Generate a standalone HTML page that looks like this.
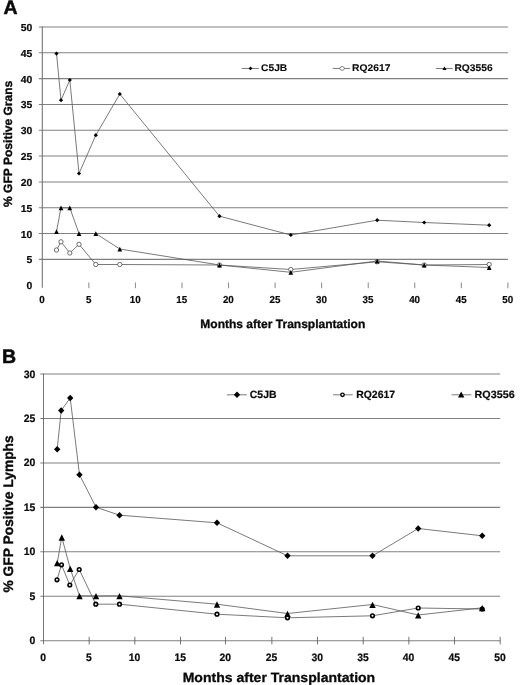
<!DOCTYPE html>
<html><head><meta charset="utf-8"><title>chart</title>
<style>
html,body{margin:0;padding:0;background:#fff;}
body{width:520px;height:685px;overflow:hidden;font-family:"Liberation Sans",sans-serif;}
svg{display:block;will-change:transform;}
text{font-family:"Liberation Sans",sans-serif;font-weight:bold;fill:#0a0a0a;stroke:#0a0a0a;stroke-width:0.2px;text-rendering:geometricPrecision;}
.tk{font-size:10.1px;}
.tkb{font-size:10.8px;}
.lga{font-size:9.7px;stroke-width:0.1px;}
.lgb{font-size:10.5px;}
.ta{font-size:12px;stroke-width:0.3px;}
.tb{font-size:13.3px;stroke-width:0.3px;}
.ya{font-size:12.05px;stroke-width:0.35px;}
.yb{font-size:13.8px;stroke-width:0.35px;}
.pl{font-size:19.5px;stroke:#0a0a0a;stroke-width:0.5px;}
</style></head><body>
<svg width="520" height="685" viewBox="0 0 520 685">
<rect width="520" height="685" fill="#fff"/>
<g stroke="#808080" stroke-width="1.05" fill="none">
<line x1="38.90" y1="259.38" x2="507.90" y2="259.38"/>
<line x1="38.90" y1="233.55" x2="507.90" y2="233.55"/>
<line x1="38.90" y1="207.72" x2="507.90" y2="207.72"/>
<line x1="38.90" y1="181.90" x2="507.90" y2="181.90"/>
<line x1="38.90" y1="156.07" x2="507.90" y2="156.07"/>
<line x1="38.90" y1="130.25" x2="507.90" y2="130.25"/>
<line x1="38.90" y1="104.42" x2="507.90" y2="104.42"/>
<line x1="38.90" y1="78.60" x2="507.90" y2="78.60"/>
<line x1="38.90" y1="52.77" x2="507.90" y2="52.77"/>
<line x1="38.90" y1="26.95" x2="507.90" y2="26.95"/>
</g>
<g stroke="#707070" stroke-width="1.05" fill="none">
<line x1="42.30" y1="26.45" x2="42.30" y2="287.7"/>
<line x1="88.86" y1="282.5" x2="88.86" y2="288.2" stroke="#7a7a7a" stroke-width="0.9"/>
<line x1="135.42" y1="282.5" x2="135.42" y2="288.2" stroke="#7a7a7a" stroke-width="0.9"/>
<line x1="181.98" y1="282.5" x2="181.98" y2="288.2" stroke="#7a7a7a" stroke-width="0.9"/>
<line x1="228.54" y1="282.5" x2="228.54" y2="288.2" stroke="#7a7a7a" stroke-width="0.9"/>
<line x1="275.10" y1="282.5" x2="275.10" y2="288.2" stroke="#7a7a7a" stroke-width="0.9"/>
<line x1="321.66" y1="282.5" x2="321.66" y2="288.2" stroke="#7a7a7a" stroke-width="0.9"/>
<line x1="368.22" y1="282.5" x2="368.22" y2="288.2" stroke="#7a7a7a" stroke-width="0.9"/>
<line x1="414.78" y1="282.5" x2="414.78" y2="288.2" stroke="#7a7a7a" stroke-width="0.9"/>
<line x1="461.34" y1="282.5" x2="461.34" y2="288.2" stroke="#7a7a7a" stroke-width="0.9"/>
<line x1="507.90" y1="282.5" x2="507.90" y2="288.2" stroke="#7a7a7a" stroke-width="0.9"/>
</g>
<g stroke="#808080" stroke-width="1.05" fill="none">
<line x1="40.30" y1="640.70" x2="500.20" y2="640.70"/>
<line x1="40.30" y1="596.25" x2="500.20" y2="596.25"/>
<line x1="40.30" y1="551.80" x2="500.20" y2="551.80"/>
<line x1="40.30" y1="507.35" x2="500.20" y2="507.35"/>
<line x1="40.30" y1="462.90" x2="500.20" y2="462.90"/>
<line x1="40.30" y1="418.45" x2="500.20" y2="418.45"/>
<line x1="40.30" y1="374.00" x2="500.20" y2="374.00"/>
</g>
<g stroke="#707070" stroke-width="1.05" fill="none">
<line x1="43.50" y1="373.50" x2="43.50" y2="644.2" stroke="#5c5c5c" stroke-width="0.85"/>
<line x1="89.17" y1="636.8" x2="89.17" y2="644.4" stroke="#5c5c5c" stroke-width="0.85"/>
<line x1="134.84" y1="636.8" x2="134.84" y2="644.4" stroke="#5c5c5c" stroke-width="0.85"/>
<line x1="180.51" y1="636.8" x2="180.51" y2="644.4" stroke="#5c5c5c" stroke-width="0.85"/>
<line x1="225.48" y1="636.8" x2="225.48" y2="644.4" stroke="#5c5c5c" stroke-width="0.85"/>
<line x1="271.85" y1="636.8" x2="271.85" y2="644.4" stroke="#5c5c5c" stroke-width="0.85"/>
<line x1="317.52" y1="636.8" x2="317.52" y2="644.4" stroke="#5c5c5c" stroke-width="0.85"/>
<line x1="363.19" y1="636.8" x2="363.19" y2="644.4" stroke="#5c5c5c" stroke-width="0.85"/>
<line x1="408.86" y1="636.8" x2="408.86" y2="644.4" stroke="#5c5c5c" stroke-width="0.85"/>
<line x1="454.53" y1="636.8" x2="454.53" y2="644.4" stroke="#5c5c5c" stroke-width="0.85"/>
<line x1="500.20" y1="636.8" x2="500.20" y2="644.4" stroke="#5c5c5c" stroke-width="0.85"/>
</g>
<polyline fill="none" stroke="#585858" stroke-width="0.8" points="56.5,53.6 61.0,100.2 69.8,80.0 79.0,173.5 95.8,135.2 119.8,94.0 219.5,216.2 290.8,235.0 377.2,220.2 424.2,222.5 489.2,225.2"/>
<polyline fill="none" stroke="#585858" stroke-width="0.8" points="56.5,250.0 61.0,241.8 69.8,253.0 79.0,244.3 95.8,264.5 119.8,264.5 219.5,265.0 290.8,269.5 377.2,261.8 424.2,265.0 489.2,264.5"/>
<polyline fill="none" stroke="#585858" stroke-width="0.8" points="56.5,231.5 61.0,207.8 69.8,207.8 79.0,233.5 95.8,233.5 119.8,249.0 219.5,265.0 290.8,272.3 377.2,261.0 424.2,265.0 489.2,267.5"/>
<path d="M54.40,53.60L56.50,51.50L58.60,53.60L56.50,55.70Z" fill="#000"/>
<path d="M58.90,100.20L61.00,98.10L63.10,100.20L61.00,102.30Z" fill="#000"/>
<path d="M67.70,80.00L69.80,77.90L71.90,80.00L69.80,82.10Z" fill="#000"/>
<path d="M76.90,173.50L79.00,171.40L81.10,173.50L79.00,175.60Z" fill="#000"/>
<path d="M93.70,135.20L95.80,133.10L97.90,135.20L95.80,137.30Z" fill="#000"/>
<path d="M117.70,94.00L119.80,91.90L121.90,94.00L119.80,96.10Z" fill="#000"/>
<path d="M217.40,216.20L219.50,214.10L221.60,216.20L219.50,218.30Z" fill="#000"/>
<path d="M288.70,235.00L290.80,232.90L292.90,235.00L290.80,237.10Z" fill="#000"/>
<path d="M375.10,220.20L377.20,218.10L379.30,220.20L377.20,222.30Z" fill="#000"/>
<path d="M422.10,222.50L424.20,220.40L426.30,222.50L424.20,224.60Z" fill="#000"/>
<path d="M487.10,225.20L489.20,223.10L491.30,225.20L489.20,227.30Z" fill="#000"/>
<circle cx="56.50" cy="250.00" r="2.15" fill="#fff" stroke="#4a4a4a" stroke-width="0.8"/>
<circle cx="61.00" cy="241.80" r="2.15" fill="#fff" stroke="#4a4a4a" stroke-width="0.8"/>
<circle cx="69.80" cy="253.00" r="2.15" fill="#fff" stroke="#4a4a4a" stroke-width="0.8"/>
<circle cx="79.00" cy="244.30" r="2.15" fill="#fff" stroke="#4a4a4a" stroke-width="0.8"/>
<circle cx="95.80" cy="264.50" r="2.15" fill="#fff" stroke="#4a4a4a" stroke-width="0.8"/>
<circle cx="119.80" cy="264.50" r="2.15" fill="#fff" stroke="#4a4a4a" stroke-width="0.8"/>
<circle cx="219.50" cy="265.00" r="2.15" fill="#fff" stroke="#4a4a4a" stroke-width="0.8"/>
<circle cx="290.80" cy="269.50" r="2.15" fill="#fff" stroke="#4a4a4a" stroke-width="0.8"/>
<circle cx="377.20" cy="261.80" r="2.15" fill="#fff" stroke="#4a4a4a" stroke-width="0.8"/>
<circle cx="424.20" cy="265.00" r="2.15" fill="#fff" stroke="#4a4a4a" stroke-width="0.8"/>
<circle cx="489.20" cy="264.50" r="2.15" fill="#fff" stroke="#4a4a4a" stroke-width="0.8"/>
<path d="M54.15,233.95L56.50,229.25L58.85,233.95Z" fill="#000"/>
<path d="M58.65,210.25L61.00,205.55L63.35,210.25Z" fill="#000"/>
<path d="M67.45,210.25L69.80,205.55L72.15,210.25Z" fill="#000"/>
<path d="M76.65,235.95L79.00,231.25L81.35,235.95Z" fill="#000"/>
<path d="M93.45,235.95L95.80,231.25L98.15,235.95Z" fill="#000"/>
<path d="M117.45,251.45L119.80,246.75L122.15,251.45Z" fill="#000"/>
<path d="M217.15,267.45L219.50,262.75L221.85,267.45Z" fill="#000"/>
<path d="M288.45,274.75L290.80,270.05L293.15,274.75Z" fill="#000"/>
<path d="M374.85,263.45L377.20,258.75L379.55,263.45Z" fill="#000"/>
<path d="M421.85,267.45L424.20,262.75L426.55,267.45Z" fill="#000"/>
<path d="M486.85,269.95L489.20,265.25L491.55,269.95Z" fill="#000"/>
<polyline fill="none" stroke="#585858" stroke-width="0.8" points="57.2,449.2 61.2,410.5 70.2,398.0 79.5,474.8 96.0,507.2 119.5,515.2 217.0,522.8 287.5,555.8 372.5,555.8 418.2,528.5 482.2,535.8"/>
<polyline fill="none" stroke="#585858" stroke-width="0.8" points="57.0,579.8 61.5,564.8 69.8,585.0 79.2,569.5 95.8,604.2 119.5,604.2 217.0,614.2 287.5,617.8 372.5,615.8 418.2,608.0 482.2,609.0"/>
<polyline fill="none" stroke="#585858" stroke-width="0.8" points="57.2,562.8 61.8,537.2 70.2,568.5 79.5,595.8 96.0,595.8 119.5,595.8 217.0,604.2 287.5,613.5 372.5,604.5 418.2,615.0 482.2,607.8"/>
<path d="M54.00,449.20L57.20,446.00L60.40,449.20L57.20,452.40Z" fill="#000"/>
<path d="M58.00,410.50L61.20,407.30L64.40,410.50L61.20,413.70Z" fill="#000"/>
<path d="M67.00,398.00L70.20,394.80L73.40,398.00L70.20,401.20Z" fill="#000"/>
<path d="M76.30,474.80L79.50,471.60L82.70,474.80L79.50,478.00Z" fill="#000"/>
<path d="M92.80,507.20L96.00,504.00L99.20,507.20L96.00,510.40Z" fill="#000"/>
<path d="M116.30,515.20L119.50,512.00L122.70,515.20L119.50,518.40Z" fill="#000"/>
<path d="M213.80,522.80L217.00,519.60L220.20,522.80L217.00,526.00Z" fill="#000"/>
<path d="M284.30,555.80L287.50,552.60L290.70,555.80L287.50,559.00Z" fill="#000"/>
<path d="M369.30,555.80L372.50,552.60L375.70,555.80L372.50,559.00Z" fill="#000"/>
<path d="M415.00,528.50L418.20,525.30L421.40,528.50L418.20,531.70Z" fill="#000"/>
<path d="M479.00,535.80L482.20,532.60L485.40,535.80L482.20,539.00Z" fill="#000"/>
<circle cx="57.00" cy="579.80" r="1.8" fill="#fff" stroke="#000" stroke-width="1.6"/>
<circle cx="61.50" cy="564.80" r="1.8" fill="#fff" stroke="#000" stroke-width="1.6"/>
<circle cx="69.80" cy="585.00" r="1.8" fill="#fff" stroke="#000" stroke-width="1.6"/>
<circle cx="79.20" cy="569.50" r="1.8" fill="#fff" stroke="#000" stroke-width="1.6"/>
<circle cx="95.80" cy="604.20" r="1.8" fill="#fff" stroke="#000" stroke-width="1.6"/>
<circle cx="119.50" cy="604.20" r="1.8" fill="#fff" stroke="#000" stroke-width="1.6"/>
<circle cx="217.00" cy="614.20" r="1.8" fill="#fff" stroke="#000" stroke-width="1.6"/>
<circle cx="287.50" cy="617.80" r="1.8" fill="#fff" stroke="#000" stroke-width="1.6"/>
<circle cx="372.50" cy="615.80" r="1.8" fill="#fff" stroke="#000" stroke-width="1.6"/>
<circle cx="418.20" cy="608.00" r="1.8" fill="#fff" stroke="#000" stroke-width="1.6"/>
<circle cx="482.20" cy="609.00" r="1.8" fill="#fff" stroke="#000" stroke-width="1.6"/>
<path d="M54.00,566.25L57.20,559.95L60.40,566.25Z" fill="#000"/>
<path d="M58.60,540.65L61.80,534.35L65.00,540.65Z" fill="#000"/>
<path d="M67.00,571.95L70.20,565.65L73.40,571.95Z" fill="#000"/>
<path d="M76.30,599.25L79.50,592.95L82.70,599.25Z" fill="#000"/>
<path d="M92.80,599.25L96.00,592.95L99.20,599.25Z" fill="#000"/>
<path d="M116.30,599.25L119.50,592.95L122.70,599.25Z" fill="#000"/>
<path d="M213.80,607.65L217.00,601.35L220.20,607.65Z" fill="#000"/>
<path d="M284.30,616.95L287.50,610.65L290.70,616.95Z" fill="#000"/>
<path d="M369.30,607.95L372.50,601.65L375.70,607.95Z" fill="#000"/>
<path d="M415.00,618.45L418.20,612.15L421.40,618.45Z" fill="#000"/>
<path d="M479.00,611.25L482.20,604.95L485.40,611.25Z" fill="#000"/>
<line x1="241.6" y1="68.45" x2="258.8" y2="68.45" stroke="#585858" stroke-width="0.8"/>
<path d="M248.60,68.45L250.50,66.55L252.40,68.45L250.50,70.35Z" fill="#000"/>
<text transform="translate(261.00,71.30) scale(1.06,1)" class="lga">C5JB</text>
<line x1="332.7" y1="68.45" x2="350.0" y2="68.45" stroke="#585858" stroke-width="0.8"/>
<ellipse cx="342.1" cy="68.45" rx="2.3" ry="1.9" fill="#fff" stroke="#555" stroke-width="0.7"/>
<text transform="translate(352.10,71.30) scale(1.06,1)" class="lga">RQ2617</text>
<line x1="435.9" y1="68.45" x2="452.7" y2="68.45" stroke="#585858" stroke-width="0.8"/>
<path d="M442.40,70.05L444.50,66.45L446.60,70.05Z" fill="#000"/>
<text transform="translate(454.40,71.30) scale(1.06,1)" class="lga">RQ3556</text>
<line x1="226.9" y1="394.8" x2="246.9" y2="394.8" stroke="#585858" stroke-width="0.8"/>
<path d="M233.80,394.80L237.00,391.60L240.20,394.80L237.00,398.00Z" fill="#000"/>
<text transform="translate(249.80,398.30) scale(0.995,1)" class="lgb">C5JB</text>
<line x1="333.0" y1="394.8" x2="352.7" y2="394.8" stroke="#585858" stroke-width="0.8"/>
<circle cx="342.50" cy="394.80" r="1.7" fill="#fff" stroke="#000" stroke-width="1.4"/>
<text transform="translate(356.20,398.30) scale(0.995,1)" class="lgb">RQ2617</text>
<line x1="451.6" y1="394.8" x2="471.4" y2="394.8" stroke="#585858" stroke-width="0.8"/>
<path d="M458.00,397.45L461.20,391.55L464.40,397.45Z" fill="#000"/>
<text transform="translate(474.60,398.30) scale(1.025,1)" class="lgb">RQ3556</text>
<text transform="translate(32.30,289.20) scale(1.03,1)" class="tk" text-anchor="end">0</text>
<text transform="translate(42.10,303.00) scale(0.97,1)" class="tk" text-anchor="middle">0</text>
<text transform="translate(32.30,263.38) scale(1.03,1)" class="tk" text-anchor="end">5</text>
<text transform="translate(88.66,303.00) scale(0.97,1)" class="tk" text-anchor="middle">5</text>
<text transform="translate(32.30,237.55) scale(1.03,1)" class="tk" text-anchor="end">10</text>
<text transform="translate(135.22,303.00) scale(0.97,1)" class="tk" text-anchor="middle">10</text>
<text transform="translate(32.30,211.72) scale(1.03,1)" class="tk" text-anchor="end">15</text>
<text transform="translate(181.78,303.00) scale(0.97,1)" class="tk" text-anchor="middle">15</text>
<text transform="translate(32.30,185.90) scale(1.03,1)" class="tk" text-anchor="end">20</text>
<text transform="translate(228.34,303.00) scale(0.97,1)" class="tk" text-anchor="middle">20</text>
<text transform="translate(32.30,160.07) scale(1.03,1)" class="tk" text-anchor="end">25</text>
<text transform="translate(274.90,303.00) scale(0.97,1)" class="tk" text-anchor="middle">25</text>
<text transform="translate(32.30,134.25) scale(1.03,1)" class="tk" text-anchor="end">30</text>
<text transform="translate(321.46,303.00) scale(0.97,1)" class="tk" text-anchor="middle">30</text>
<text transform="translate(32.30,108.42) scale(1.03,1)" class="tk" text-anchor="end">35</text>
<text transform="translate(368.02,303.00) scale(0.97,1)" class="tk" text-anchor="middle">35</text>
<text transform="translate(32.30,82.60) scale(1.03,1)" class="tk" text-anchor="end">40</text>
<text transform="translate(414.58,303.00) scale(0.97,1)" class="tk" text-anchor="middle">40</text>
<text transform="translate(32.30,56.77) scale(1.03,1)" class="tk" text-anchor="end">45</text>
<text transform="translate(461.14,303.00) scale(0.97,1)" class="tk" text-anchor="middle">45</text>
<text transform="translate(32.30,30.95) scale(1.03,1)" class="tk" text-anchor="end">50</text>
<text transform="translate(507.70,303.00) scale(0.97,1)" class="tk" text-anchor="middle">50</text>
<text transform="translate(35.30,644.20) scale(0.97,1)" class="tkb" text-anchor="end">0</text>
<text transform="translate(35.30,599.75) scale(0.97,1)" class="tkb" text-anchor="end">5</text>
<text transform="translate(35.30,555.30) scale(0.97,1)" class="tkb" text-anchor="end">10</text>
<text transform="translate(35.30,510.85) scale(0.97,1)" class="tkb" text-anchor="end">15</text>
<text transform="translate(35.30,466.40) scale(0.97,1)" class="tkb" text-anchor="end">20</text>
<text transform="translate(35.30,421.95) scale(0.97,1)" class="tkb" text-anchor="end">25</text>
<text transform="translate(35.30,377.50) scale(0.97,1)" class="tkb" text-anchor="end">30</text>
<text transform="translate(43.20,660.90) scale(0.96,1)" class="tkb" text-anchor="middle">0</text>
<text transform="translate(88.87,660.90) scale(0.96,1)" class="tkb" text-anchor="middle">5</text>
<text transform="translate(134.54,660.90) scale(0.96,1)" class="tkb" text-anchor="middle">10</text>
<text transform="translate(180.21,660.90) scale(0.96,1)" class="tkb" text-anchor="middle">15</text>
<text transform="translate(225.18,660.90) scale(0.96,1)" class="tkb" text-anchor="middle">20</text>
<text transform="translate(271.55,660.90) scale(0.96,1)" class="tkb" text-anchor="middle">25</text>
<text transform="translate(317.22,660.90) scale(0.96,1)" class="tkb" text-anchor="middle">30</text>
<text transform="translate(362.89,660.90) scale(0.96,1)" class="tkb" text-anchor="middle">35</text>
<text transform="translate(408.56,660.90) scale(0.96,1)" class="tkb" text-anchor="middle">40</text>
<text transform="translate(454.23,660.90) scale(0.96,1)" class="tkb" text-anchor="middle">45</text>
<text transform="translate(499.90,660.90) scale(0.96,1)" class="tkb" text-anchor="middle">50</text>
<text x="200.3" y="328.3" class="ta" textLength="165" lengthAdjust="spacingAndGlyphs">Months after Transplantation</text>
<text x="182.7" y="681.8" class="tb" textLength="192.5" lengthAdjust="spacingAndGlyphs">Months after Transplantation</text>
<text transform="translate(11.70,207.00) rotate(-90)" class="ya">% GFP Positive Grans</text>
<text transform="translate(13.40,592.50) rotate(-90)" class="yb">% GFP Positive Lymphs</text>
<text transform="translate(3.50,13.85)" class="pl">A</text>
<text transform="translate(2.10,362.90)" class="pl">B</text>
</svg>
</body></html>
